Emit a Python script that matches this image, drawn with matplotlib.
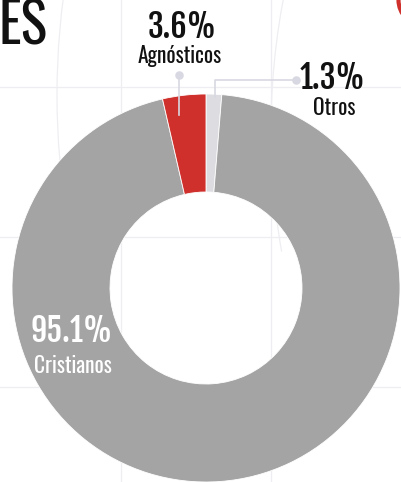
import matplotlib.pyplot as plt
from matplotlib.patches import Circle, Arc

# datos del grafico (orden en sentido horario desde arriba)
labels = ["Otros", "Cristianos", "Agnósticos"]
values = [1.3, 95.1, 3.6]
colors = ["#dcdce1", "#a4a4a4", "#cf302b"]

W, H = 401, 482
fontBig = ["Fjalla One", "DejaVu Sans"]
fontSmall = ["Oswald", "DejaVu Sans"]
gridColor = "#eeeef2"
leaderColor = "#d8d8e2"

fig = plt.figure(figsize=(W / 100, H / 100), dpi=100)
ax = fig.add_axes([0, 0, 1, 1])

def py(y):  # pixel y (desde arriba) -> coordenada de datos
    return H - y

# rejilla de fondo
for x in [121, 271]:
    ax.axvline(x, color=gridColor, lw=0.9, zorder=0)
for y in [87, 237, 387]:
    ax.axhline(py(y), color=gridColor, lw=0.9, zorder=0)
# arcos decorativos
ax.add_patch(Arc((807, py(95)), 1500, 1500, theta1=160, theta2=200, color=gridColor, lw=0.9, zorder=0))
ax.add_patch(Arc((971, py(130)), 1400, 1400, theta1=165, theta2=190, color=gridColor, lw=0.9, zorder=0))

# donut
ax.pie(values, colors=colors, startangle=90, counterclock=False,
       center=(206, py(288)), radius=194,
       wedgeprops=dict(width=98, edgecolor="white", linewidth=0.6), frame=True)

# lineas guia
ax.plot([179, 179], [py(75), py(115)], color=leaderColor, lw=1.2, zorder=5)
ax.scatter([179], [py(75)], s=38, color=leaderColor, zorder=6, linewidths=0)
ax.plot([215, 215, 296], [py(97), py(80), py(80)], color=leaderColor, lw=1.2, zorder=5)
ax.scatter([296], [py(80)], s=38, color=leaderColor, zorder=6, linewidths=0)

# etiquetas
ax.text(182, py(38), f"{values[2]}%", ha="center", va="baseline", fontsize=23,
        family=fontBig, color="#111111")
ax.text(180, py(63), labels[2], ha="center", va="baseline", fontsize=15.5,
        family=fontSmall, color="#111111")
ax.text(332, py(89), f"{values[0]}%", ha="center", va="baseline", fontsize=23,
        family=fontBig, color="#111111")
ax.text(334, py(115), labels[0], ha="center", va="baseline", fontsize=15.5,
        family=fontSmall, color="#111111")
ax.text(72, py(342), f"{values[1]}%", ha="center", va="baseline", fontsize=23,
        family=fontBig, color="white")
ax.text(73, py(373), labels[1], ha="center", va="baseline", fontsize=15.5,
        family=fontSmall, color="white")

# titulo cortado y circulo rojo
ax.text(-1, py(44), "ES", ha="left", va="baseline", fontsize=40,
        family=fontSmall, color="#111111")
ax.add_patch(Circle((424, py(0)), 25.5, facecolor="none", edgecolor="#cf302b", lw=3))

ax.set_xlim(0, W)
ax.set_ylim(0, H)
ax.set_aspect("auto")
ax.axis("off")

fig.savefig("out.png", dpi=100, facecolor="white")
